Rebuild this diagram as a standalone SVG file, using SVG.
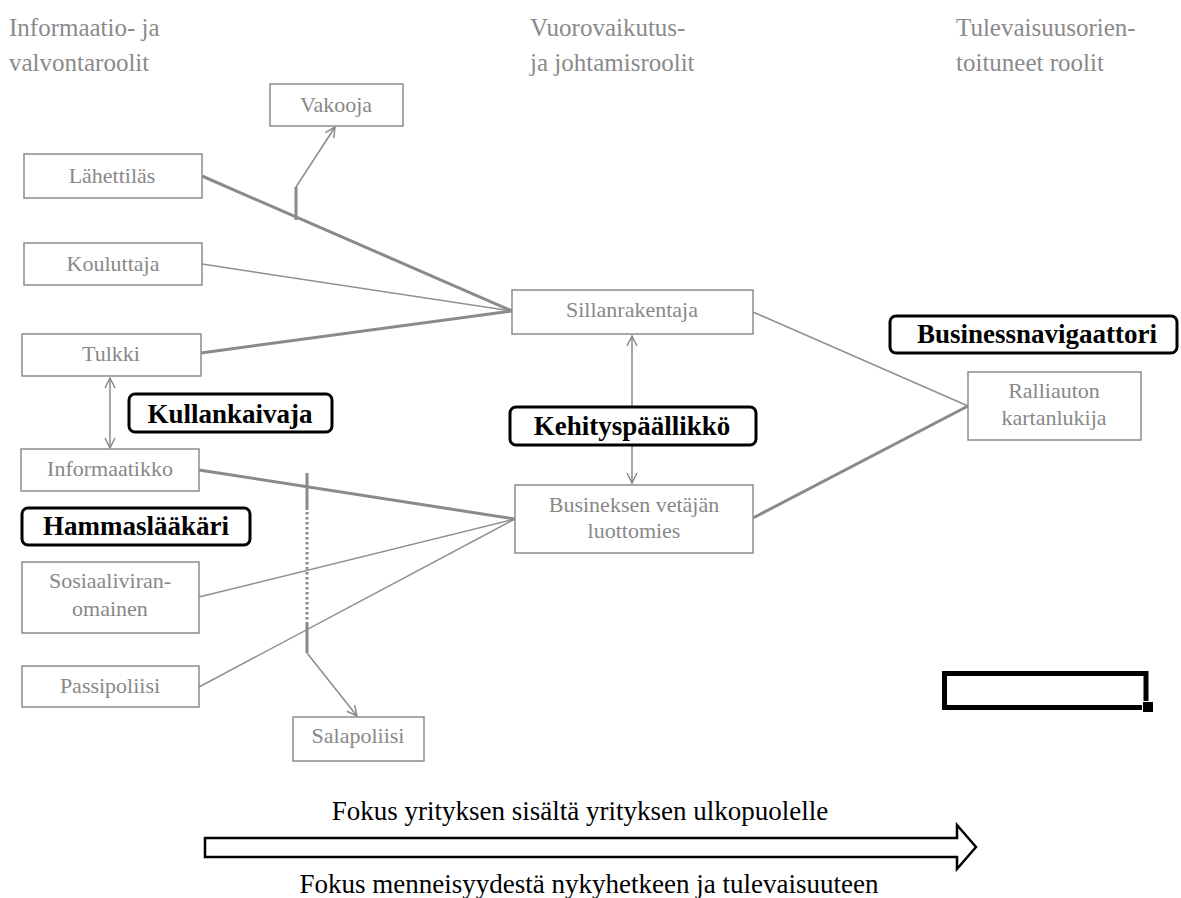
<svg xmlns="http://www.w3.org/2000/svg" width="1181" height="898" viewBox="0 0 1181 898">
  <defs>
    <marker id="vhead" viewBox="0 0 12 12" refX="11" refY="6" markerWidth="12" markerHeight="12" markerUnits="userSpaceOnUse" orient="auto-start-reverse">
      <path d="M1,1 L11,6 L1,11" fill="none" stroke="#8a8a8a" stroke-width="1.5"/>
    </marker>
  </defs>
  <style>
    text { font-family: 'Liberation Serif', 'DejaVu Serif', serif; }
    .head { font-size: 25px; fill: #8a8a8a; }
    .role { fill: #ffffff; stroke: #8c8c8c; stroke-width: 1.5; }
    .rt { font-size: 22px; fill: #888888; text-anchor: middle; }
    .tag { fill: #ffffff; stroke: #000000; stroke-width: 3; }
    .tt { font-size: 27px; font-weight: bold; fill: #000000; text-anchor: middle; }
    .thick { stroke: #8a8a8a; stroke-width: 3; fill: none; }
    .thin { stroke: #8f8f8f; stroke-width: 1.5; fill: none; }
    .arr { stroke: #8a8a8a; stroke-width: 1.5; fill: none; }
    .foot { font-size: 27px; fill: #000000; text-anchor: middle; }
  </style>

  <rect width="1181" height="898" fill="#ffffff"/>

  <!-- column headings -->
  <g id="headings">
    <text class="head" x="9" y="36">Informaatio- ja</text>
    <text class="head" x="9" y="71">valvontaroolit</text>
    <text class="head" x="530" y="36">Vuorovaikutus-</text>
    <text class="head" x="530" y="71">ja johtamisroolit</text>
    <text class="head" x="956" y="36">Tulevaisuusorien-</text>
    <text class="head" x="956" y="71">toituneet roolit</text>
  </g>

  <!-- connectors -->
  <g id="connectors">
    <line class="thick" x1="202" y1="176" x2="512" y2="311"/>
    <line class="thin" x1="202" y1="264" x2="512" y2="311"/>
    <line class="thick" x1="201" y1="353" x2="512" y2="311"/>
    <line class="thick" x1="199" y1="470" x2="515" y2="519"/>
    <line class="thin" x1="199" y1="597" x2="515" y2="519"/>
    <line class="thin" x1="199" y1="687" x2="515" y2="519"/>
    <line class="thin" x1="753" y1="312" x2="968" y2="406"/>
    <line class="thick" x1="753" y1="518" x2="968" y2="406"/>
    <!-- branch up to Vakooja -->
    <line class="thick" x1="296" y1="220" x2="296" y2="187"/>
    <line class="arr" x1="296" y1="187" x2="335" y2="127" marker-end="url(#vhead)"/>
    <!-- branch down to Salapoliisi -->
    <line class="thick" x1="307" y1="473" x2="307" y2="510"/>
    <line x1="307" y1="512" x2="307" y2="623" stroke="#8a8a8a" stroke-width="3" stroke-dasharray="2.5 2.5"/>
    <line class="thick" x1="307" y1="623" x2="307" y2="653"/>
    <line class="arr" x1="307" y1="653" x2="357" y2="716" marker-end="url(#vhead)"/>
    <!-- two-way links -->
    <line class="arr" x1="110" y1="378" x2="110" y2="448" marker-start="url(#vhead)" marker-end="url(#vhead)"/>
    <line class="arr" x1="632" y1="336" x2="632" y2="483" marker-start="url(#vhead)" marker-end="url(#vhead)"/>
  </g>

  <g id="vakooja">
    <rect class="role" x="270" y="84" width="133" height="42"/>
    <text class="rt" x="336" y="112">Vakooja</text>
  </g>
  <g id="lahettilas">
    <rect class="role" x="24" y="154" width="178" height="44"/>
    <text class="rt" x="112" y="183">Lähettiläs</text>
  </g>
  <g id="kouluttaja">
    <rect class="role" x="24" y="243" width="178" height="42"/>
    <text class="rt" x="113" y="271">Kouluttaja</text>
  </g>
  <g id="tulkki">
    <rect class="role" x="22" y="334" width="179" height="42"/>
    <text class="rt" x="111" y="361">Tulkki</text>
  </g>
  <g id="informaatikko">
    <rect class="role" x="21" y="449" width="178" height="42"/>
    <text class="rt" x="110" y="476">Informaatikko</text>
  </g>
  <g id="sosiaaliviranomainen">
    <rect class="role" x="22" y="562" width="177" height="71"/>
    <text class="rt" x="110" y="588">Sosiaaliviran-</text>
    <text class="rt" x="110" y="616">omainen</text>
  </g>
  <g id="passipoliisi">
    <rect class="role" x="22" y="666" width="177" height="41"/>
    <text class="rt" x="110" y="693">Passipoliisi</text>
  </g>
  <g id="salapoliisi">
    <rect class="role" x="293" y="717" width="131" height="44"/>
    <text class="rt" x="358" y="743">Salapoliisi</text>
  </g>
  <g id="sillanrakentaja">
    <rect class="role" x="512" y="290" width="241" height="44"/>
    <text class="rt" x="632" y="317">Sillanrakentaja</text>
  </g>
  <g id="luottomies">
    <rect class="role" x="515" y="485" width="238" height="68"/>
    <text class="rt" x="634" y="512">Busineksen vetäjän</text>
    <text class="rt" x="634" y="538">luottomies</text>
  </g>
  <g id="kartanlukija">
    <rect class="role" x="968" y="372" width="173" height="68"/>
    <text class="rt" x="1054" y="398">Ralliauton</text>
    <text class="rt" x="1054" y="425">kartanlukija</text>
  </g>

  <!-- group labels -->
  <g id="kullankaivaja">
    <rect class="tag" x="129" y="394" width="203" height="38" rx="6"/>
    <text class="tt" x="230" y="423">Kullankaivaja</text>
  </g>
  <g id="hammaslaakari">
    <rect class="tag" x="22" y="508" width="228" height="37" rx="6"/>
    <text class="tt" x="136" y="535">Hammaslääkäri</text>
  </g>
  <g id="kehityspaallikko">
    <rect class="tag" x="510" y="407" width="246" height="38" rx="6"/>
    <text class="tt" x="632" y="435">Kehityspäällikkö</text>
  </g>
  <g id="businessnavigaattori">
    <rect class="tag" x="890" y="316" width="287" height="37" rx="6"/>
    <text class="tt" x="1037" y="343">Businessnavigaattori</text>
  </g>

  <!-- empty frame with corner handle -->
  <g id="frame">
    <path d="M1146,701 V673.5 H944.5 V707.5 H1142" fill="none" stroke="#000000" stroke-width="5"/>
    <rect x="1143" y="702" width="10" height="10" fill="#000000"/>
  </g>

  <!-- focus arrow -->
  <g id="focus">
    <text class="foot" x="580" y="820">Fokus yrityksen sisältä yrityksen ulkopuolelle</text>
    <path d="M205,838 H957 V825 L976,847 L957,869 V857 H205 Z" fill="#ffffff" stroke="#000000" stroke-width="2.5" stroke-linejoin="miter"/>
    <text class="foot" x="589" y="893">Fokus menneisyydestä nykyhetkeen ja tulevaisuuteen</text>
  </g>
</svg>
